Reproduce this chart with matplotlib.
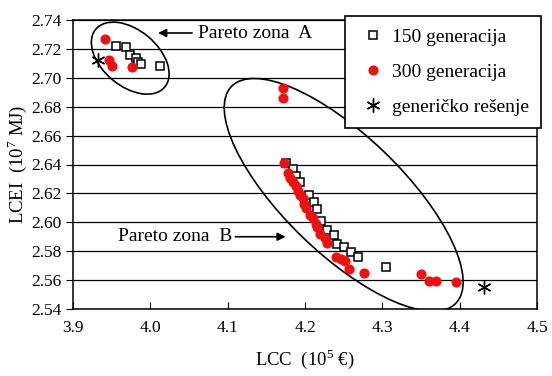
import matplotlib
matplotlib.use('Agg')
import matplotlib.pyplot as plt
from matplotlib.patches import Ellipse
from matplotlib.transforms import ScaledTranslation

plt.rcParams['font.family'] = ['Liberation Serif', 'DejaVu Serif']
plt.rcParams['mathtext.fontset'] = 'custom'
plt.rcParams['mathtext.rm'] = 'Liberation Serif'

# 150 generacija (kvadrati)
gen150_x = [3.955, 3.968, 3.974, 3.981, 3.984, 3.988, 4.013,
            4.175, 4.184, 4.188, 4.193, 4.205, 4.211, 4.215, 4.221, 4.228,
            4.238, 4.241, 4.250, 4.259, 4.268, 4.305]
gen150_y = [2.722, 2.7215, 2.716, 2.7136, 2.711, 2.7095, 2.708,
            2.641, 2.637, 2.632, 2.628, 2.619, 2.614, 2.609, 2.601, 2.595,
            2.591, 2.585, 2.583, 2.5795, 2.5757, 2.569]

# 300 generacija (crveni krugovi)
gen300_x = [3.941, 3.947, 3.951, 3.976,
            4.171, 4.172, 4.173, 4.178, 4.181, 4.184, 4.188, 4.191, 4.194,
            4.197, 4.199, 4.201, 4.207, 4.210, 4.214, 4.216, 4.219, 4.226,
            4.229, 4.240, 4.247, 4.252, 4.257, 4.276, 4.350, 4.360, 4.369, 4.395]
gen300_y = [2.727, 2.712, 2.708, 2.7075,
            2.693, 2.686, 2.641, 2.634, 2.631, 2.628, 2.625, 2.6215, 2.619,
            2.6165, 2.613, 2.610, 2.605, 2.603, 2.599, 2.597, 2.592, 2.589,
            2.586, 2.576, 2.5745, 2.573, 2.568, 2.5648, 2.564, 2.5597, 2.5597, 2.559]

# genericko resenje
gen_x = [3.932, 4.431]
gen_y = [2.7125, 2.5555]

x_ticks = [3.9, 4.0, 4.1, 4.2, 4.3, 4.4, 4.5]
y_ticks = [2.54, 2.56, 2.58, 2.60, 2.62, 2.64, 2.66, 2.68, 2.70, 2.72, 2.74]

fig = plt.figure(figsize=(5.52, 3.76), dpi=100)
ax = fig.add_axes([73 / 552, 1 - 309 / 376, 464 / 552, 289 / 376])

ax.plot(gen150_x, gen150_y, 's', ms=5.2, mfc='white', mec='black', mew=1.1,
        label='150 generacija', zorder=3)
ax.plot(gen300_x, gen300_y, 'o', ms=6.3, color='#ee1111', mec='#ee1111',
        label='300 generacija', zorder=4)
ax.plot(gen_x, gen_y, ls='none', marker=(6, 2, 0), ms=10, mec='black', mew=1.0,
        label='generičko rešenje', zorder=5)

# elipse oko Pareto zona (velicine u incima)
for cx, cy, w, h, ang in [(3.974, 2.7136, 0.90, 0.56, -40),
                          (4.250, 2.6190, 3.12, 1.18, -44)]:
    tr = fig.dpi_scale_trans + ScaledTranslation(cx, cy, ax.transData)
    ax.add_patch(Ellipse((0, 0), w, h, angle=ang, transform=tr,
                         fill=False, ec='black', lw=1.2, zorder=2))

arrow = dict(arrowstyle='-|>', color='black', lw=1.2, mutation_scale=12,
             shrinkA=0, shrinkB=0)
ax.annotate('', xy=(4.010, 2.731), xytext=(4.054, 2.731), arrowprops=arrow)
ax.text(4.062, 2.731, 'Pareto zona  A', fontsize=14, va='center', ha='left')
ax.annotate('', xy=(4.175, 2.590), xytext=(4.110, 2.590), arrowprops=arrow)
ax.text(4.106, 2.590, 'Pareto zona  B', fontsize=14, va='center', ha='right')

ax.set_xlim(3.9, 4.5)
ax.set_ylim(2.54, 2.74)
ax.set_xticks(x_ticks)
ax.set_xticklabels([f'{v:.1f}' for v in x_ticks])
ax.set_yticks(y_ticks)
ax.set_yticklabels([f'{v:.2f}' for v in y_ticks])
ax.tick_params(axis='x', direction='in', length=5, pad=8, labelsize=12.5)
ax.tick_params(axis='y', direction='out', length=5, pad=3, labelsize=12.5)
ax.yaxis.grid(True, color='black', lw=0.9)
ax.set_axisbelow(True)
for s in ax.spines.values():
    s.set_linewidth(1.1)

ax.set_xlabel('LCC  (10$^5$ €)', fontsize=13.5, labelpad=8)
ax.set_ylabel('LCEI  (10$^7$ MJ)', fontsize=13.5, labelpad=2)

leg = ax.legend(loc='upper left', bbox_to_anchor=(345 / 552, 1 - 16 / 376),
                bbox_transform=fig.transFigure, fontsize=14, frameon=True,
                fancybox=False, edgecolor='black', framealpha=1,
                borderpad=0.65, handlelength=1.6, handletextpad=0.15,
                labelspacing=0.88, borderaxespad=0)
leg.get_frame().set_linewidth(1.2)

fig.savefig('out.png', dpi=100)
